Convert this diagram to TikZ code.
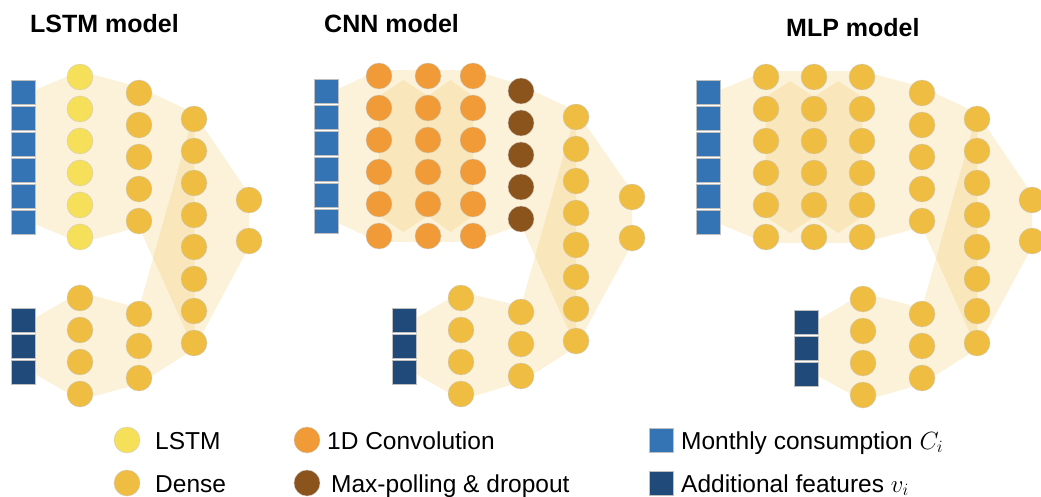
\documentclass[tikz,border=0pt]{standalone}
\usepackage{fontspec}
\setmainfont{Liberation Sans}
\usepackage{tikz}
\usetikzlibrary{calc,positioning}
\pgfdeclarelayer{background}
\pgfsetlayers{background,main}
\definecolor{lstmc}{RGB}{246,224,90}
\definecolor{densec}{RGB}{239,189,66}
\definecolor{convc}{RGB}{240,155,56}
\definecolor{poolc}{RGB}{139,84,28}
\definecolor{monthc}{RGB}{52,116,180}
\definecolor{featc}{RGB}{31,74,122}
\tikzstyle{unit} = [circle, draw=black!22, line width=0.3pt, minimum size=26pt, inner sep=0pt]
\tikzstyle{lstmnode} = [unit, fill=lstmc]
\tikzstyle{densenode} = [unit, fill=densec]
\tikzstyle{convnode} = [unit, fill=convc]
\tikzstyle{poolnode} = [unit, fill=poolc]
\tikzstyle{inbox} = [rectangle, draw=black!25, line width=0.3pt, minimum width=24pt, minimum height=24pt, inner sep=0pt, anchor=north west]
\tikzstyle{monthbox} = [inbox, fill=monthc]
\tikzstyle{featbox} = [inbox, fill=featc]
\tikzstyle{band} = [fill=densec, fill opacity=0.2]
\tikzstyle{title} = [font=\fontsize{25}{30}\selectfont\bfseries, anchor=base west, inner sep=0pt]
\tikzstyle{legtext} = [font=\fontsize{24.5}{29}\selectfont, anchor=base west, inner sep=0pt]
% column of units: name, x, first y, count, pitch, style
\newcommand{\layer}[6]{%
  \foreach \k in {1,...,#4}
    \node [#6] (#1-\k) at (#2,{#3+#5*(\k-1)}) {};
  \coordinate (#1-t) at (#2,{#3-6});
  \coordinate (#1-b) at (#2,{#3+#5*(#4-1)+6});
}
% column of input boxes: name, left x, top y, count, style
\newcommand{\inputs}[5]{%
  \foreach \k in {1,...,#4}
    \node [#5] (#1-\k) at (#2,{#3+26*(\k-1)}) {};
  \coordinate (#1-t) at ({#2+24},{#3+10});
  \coordinate (#1-b) at ({#2+24},{#3+26*(#4-1)+14});
}
\newcommand{\band}[2]{\fill [band] (#1-t) -- (#2-t) -- (#2-b) -- (#1-b) -- cycle;}
\newcommand{\kernel}[2]{\fill [band] ([yshift=-26]#1-t) -- ($(#1-t)!.5!(#2-t)+(0,10)$) -- ([yshift=-26]#2-t)
  -- ([yshift=26]#2-b) -- ($(#1-b)!.5!(#2-b)+(0,-10)$) -- ([yshift=26]#1-b) -- cycle;}

\begin{document}
\begin{tikzpicture}[x=1pt, y=-1pt]
    \useasboundingbox (0,0) rectangle (1041,497);
    % Titles
    \node [title] (tlstm) at (30,33) {LSTM model};
    \node [title] (tcnn) at (324,33) {CNN model};
    \node [title] (tmlp) at (786,37) {MLP model};

    % LSTM model
    \inputs{lsq}{11}{80}{6}{monthbox}
    \layer{la}{80}{77}{6}{32}{lstmnode}
    \layer{lb}{139}{93}{5}{32}{densenode}
    \layer{lc}{194}{119}{8}{32}{densenode}
    \layer{lo}{249}{200}{2}{41}{densenode}
    \inputs{lfsq}{11}{308}{3}{featbox}
    \layer{ld}{80}{298}{4}{32}{densenode}
    \layer{le}{139}{314}{3}{32}{densenode}

    % CNN model
    \inputs{csq}{314}{79}{6}{monthbox}
    \layer{ca}{379}{76}{6}{32}{convnode}
    \layer{cb}{428}{76}{6}{32}{convnode}
    \layer{cc}{473}{76}{6}{32}{convnode}
    \layer{cp}{521}{91}{5}{32}{poolnode}
    \layer{cd}{576}{117}{8}{32}{densenode}
    \layer{co}{632}{197}{2}{41}{densenode}
    \inputs{cfsq}{392}{308}{3}{featbox}
    \layer{ce}{461}{298}{4}{32}{densenode}
    \layer{cf}{521}{312}{3}{32}{densenode}

    % MLP model
    \inputs{msq}{696}{80}{6}{monthbox}
    \layer{ma}{766}{77}{6}{32}{densenode}
    \layer{mb}{814}{77}{6}{32}{densenode}
    \layer{mc}{862}{77}{6}{32}{densenode}
    \layer{md}{922}{93}{5}{32}{densenode}
    \layer{me}{977}{119}{8}{32}{densenode}
    \layer{mo}{1032}{200}{2}{41}{densenode}
    \inputs{mfsq}{794}{310}{3}{featbox}
    \layer{mf}{863}{299}{4}{32}{densenode}
    \layer{mg}{922}{314}{3}{32}{densenode}

    % Draw bands
    \begin{pgfonlayer}{background}
    \band{lsq}{la} \band{la}{lb} \band{lb}{lc} \band{lc}{lo}
    \band{lfsq}{ld} \band{ld}{le} \band{le}{lc}
    \band{csq}{ca} \band{ca}{cb} \band{cb}{cc} \band{cc}{cp} \band{cp}{cd} \band{cd}{co}
    \band{cfsq}{ce} \band{ce}{cf} \band{cf}{cd}
    \kernel{ca}{cb} \kernel{cb}{cc}
    \band{msq}{ma} \band{ma}{mb} \band{mb}{mc} \band{mc}{md} \band{md}{me} \band{me}{mo}
    \band{mfsq}{mf} \band{mf}{mg} \band{mg}{me}
    \kernel{ma}{mb} \kernel{mb}{mc}
    \end{pgfonlayer}

    % Legend
    \node [lstmnode] (klstm) at (127,440) {};
    \node [densenode] (kdense) at (127,483) {};
    \node [convnode] (kconv) at (307,440) {};
    \node [poolnode] (kpool) at (307,483) {};
    \node [monthbox] (kmonth) at (649,428) {};
    \node [featbox] (kfeat) at (649,471) {};
    \node [legtext] (llstm) at (155,449) {LSTM};
    \node [legtext] (ldense) at (155,492) {Dense};
    \node [legtext] (lconv) at (327,449) {1D Convolution};
    \node [legtext] (lpool) at (331,492) {Max-polling \& dropout};
    \node [legtext] (lmonth) at (681,449) {Monthly consumption $C_i$};
    \node [legtext] (lfeat) at (681,492) {Additional features $v_i$};
\end{tikzpicture}
\end{document}
